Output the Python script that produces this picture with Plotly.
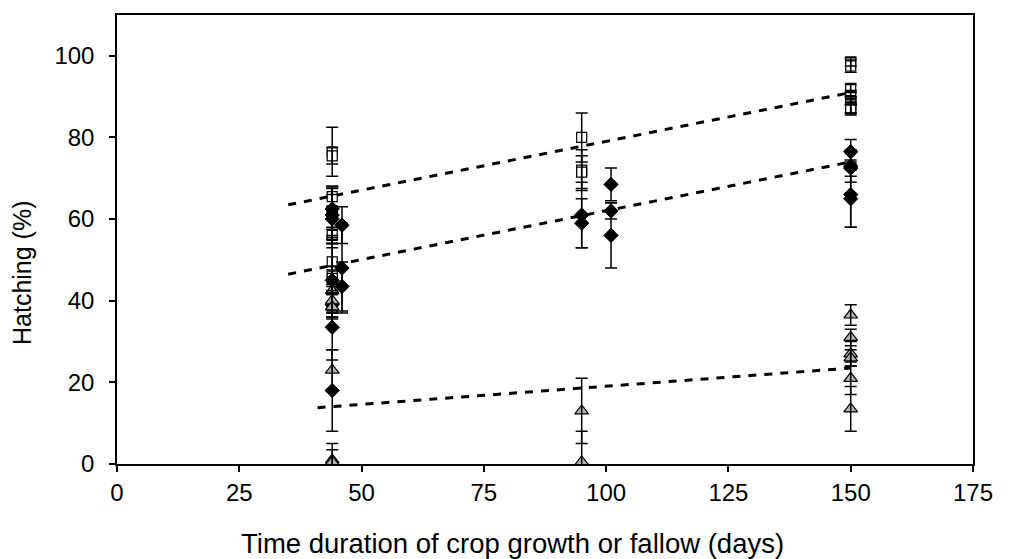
import plotly.graph_objects as go

# Open squares series
sq_x = [44]*9 + [95]*3 + [150]*8
sq_y = [76.5, 75.5, 65.5, 62.0, 61.0, 56.0, 49.5, 46.0, 45.5,
        80.0, 72.0, 71.5,
        98.5, 97.5, 92.0, 90.0, 89.0, 88.0, 87.5, 87.0]
sq_err = [6, 2, 2.5, 6, 7, 2, 6, 9, 3,
          6, 5, 4,
          1, 1.5, 1, 1.5, 1, 2, 2, 1]

# Filled diamonds series
di_x = [44]*7 + [46]*3 + [95]*2 + [101]*3 + [150]*5
di_y = [62.5, 61.0, 60.0, 45.0, 39.0, 33.5, 18.0,
        58.5, 48.0, 43.5,
        61.0, 59.0,
        68.5, 62.0, 56.0,
        76.5, 73.0, 72.5, 66.0, 65.0]
di_err = [5, 7, 6, 8, 3, 8, 10,
          4.5, 11, 6,
          8, 6,
          4, 2, 8,
          3, 4, 2, 8, 7]

# Grey triangles series
tr_x = [44]*6 + [95]*2 + [150]*6
tr_y = [42.5, 40.0, 38.5, 23.0, 1.0, 0.5,
        13.0, 0.5,
        36.5, 31.0, 27.0, 26.0, 21.0, 13.5]
tr_err = [5, 4, 3, 5, 4, 3,
          8, 7.5,
          2.5, 2, 3, 2, 4, 5.5]

# Trend lines (endpoints)
tr_top_x = [35, 150]
tr_top_y = [63.5, 91.0]
tr_mid_x = [35, 150]
tr_mid_y = [46.5, 74.0]
tr_bot_x = [41, 150]
tr_bot_y = [13.8, 23.5]

x_ticks = [0, 25, 50, 75, 100, 125, 150, 175]
y_ticks = [0, 20, 40, 60, 80, 100]
x_title = "Time duration of crop growth or fallow (days)"
y_title = "Hatching (%)"

fig = go.Figure()

for tx, ty in [(tr_top_x, tr_top_y), (tr_mid_x, tr_mid_y), (tr_bot_x, tr_bot_y)]:
    fig.add_trace(go.Scatter(x=tx, y=ty, mode="lines",
                             line=dict(color="black", width=3, dash="8px,8px"),
                             showlegend=False, hoverinfo="skip"))

def err(v):
    return dict(type="data", array=v, visible=True, color="black",
                thickness=1.5, width=6)

series = [
    (sq_x, sq_y, sq_err, dict(symbol="square", size=10, color="white",
                             line=dict(color="black", width=1.2))),
    (di_x, di_y, di_err, dict(symbol="diamond", size=11, color="black",
                             line=dict(color="black", width=1))),
    (tr_x, tr_y, tr_err, dict(symbol="triangle-up", size=12, color="#b3b3b3",
                             line=dict(color="black", width=1.2))),
]

# markers
for sx, sy, se, mk in series:
    fig.add_trace(go.Scatter(x=sx, y=sy, mode="markers", marker=mk,
                             cliponaxis=False, showlegend=False))
# error bars drawn on top of the markers
for sx, sy, se, mk in series:
    fig.add_trace(go.Scatter(x=sx, y=sy, mode="markers", error_y=err(se),
                             marker=dict(size=1, color="rgba(0,0,0,0)"),
                             cliponaxis=False, showlegend=False, hoverinfo="skip"))

fam = "Liberation Sans, Arial, sans-serif"
tick_font = dict(family=fam, size=24, color="black")

fig.update_layout(
    width=1021, height=559,
    margin=dict(l=117, r=48, t=15, b=95),
    paper_bgcolor="white", plot_bgcolor="white",
    font=tick_font,
    xaxis=dict(range=[0, 175], tickvals=x_ticks, ticks="outside", ticklen=6,
               tickwidth=1.5, tickcolor="black", showline=True, linecolor="black",
               linewidth=1.5, mirror=True, showgrid=False, zeroline=False,
               tickfont=tick_font),
    yaxis=dict(range=[0, 110], tickvals=y_ticks, ticks="outside", ticklen=6,
               tickwidth=1.5, tickcolor="black", showline=True, linecolor="black",
               linewidth=1.5, mirror=True, showgrid=False, zeroline=False,
               tickfont=tick_font, ticklabelstandoff=10),
    annotations=[
        dict(text=x_title, xref="paper", yref="paper", x=0.4626, y=-0.176,
             xanchor="center", yanchor="middle", showarrow=False,
             font=dict(family=fam, size=27.5, color="black")),
        dict(text=y_title, xref="paper", yref="paper", x=-0.111, y=0.4276,
             xanchor="center", yanchor="middle", showarrow=False, textangle=-90,
             font=dict(family=fam, size=25, color="black")),
    ],
)

fig.write_html("out.html",
               config={"displayModeBar": False},
               post_script="document.body.style.margin='0';document.body.style.overflow='hidden';")
